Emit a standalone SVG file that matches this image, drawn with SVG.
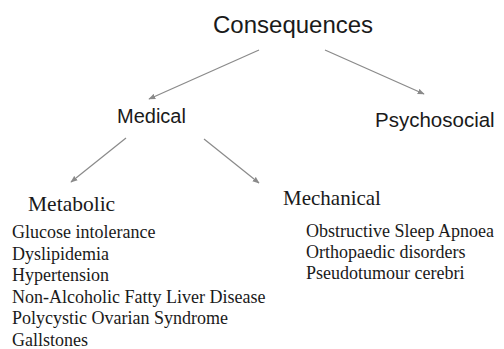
<svg xmlns="http://www.w3.org/2000/svg" width="504" height="349" viewBox="0 0 504 349">
<style>
.sans{font-family:"Liberation Sans",Arial,sans-serif;fill:#1a1a1a}
.serif{font-family:"Liberation Serif","Times New Roman",serif;fill:#1a1a1a}
.item{font-size:18px}
.conn{stroke:#8a8a8a;stroke-width:1.2;fill:none;marker-end:url(#ah)}
</style>
<defs>
<marker id="ah" viewBox="0 0 10 10" refX="9" refY="5" markerWidth="7" markerHeight="7" markerUnits="userSpaceOnUse" orient="auto">
<path d="M0,1 L10,5 L0,9 Z" fill="#8a8a8a"/>
</marker>
</defs>
<rect width="504" height="349" fill="#ffffff"/>
<g id="connectors">
<line class="conn" x1="259" y1="50" x2="149" y2="99"/>
<line class="conn" x1="325" y1="50" x2="424" y2="94"/>
<line class="conn" x1="126" y1="138" x2="71" y2="182"/>
<line class="conn" x1="204" y1="139" x2="259" y2="183"/>
</g>
<g id="consequences"><text class="sans" x="213" y="33" font-size="24">Consequences</text></g>
<g id="medical"><text class="sans" x="117" y="123" font-size="20">Medical</text></g>
<g id="psychosocial"><text class="sans" x="375" y="127" font-size="20.5">Psychosocial</text></g>
<g id="metabolic">
<text class="serif" x="28" y="211" font-size="21.5">Metabolic</text>
<text class="serif item" x="12" y="238">Glucose intolerance</text>
<text class="serif item" x="12" y="259.6">Dyslipidemia</text>
<text class="serif item" x="12" y="281.2">Hypertension</text>
<text class="serif item" x="12" y="302.8">Non-Alcoholic Fatty Liver Disease</text>
<text class="serif item" x="12" y="324.4">Polycystic Ovarian Syndrome</text>
<text class="serif item" x="12" y="346">Gallstones</text>
</g>
<g id="mechanical">
<text class="serif" x="283" y="205" font-size="21">Mechanical</text>
<text class="serif item" x="306" y="237">Obstructive Sleep Apnoea</text>
<text class="serif item" x="306" y="258">Orthopaedic disorders</text>
<text class="serif item" x="306" y="279">Pseudotumour cerebri</text>
</g>
</svg>
